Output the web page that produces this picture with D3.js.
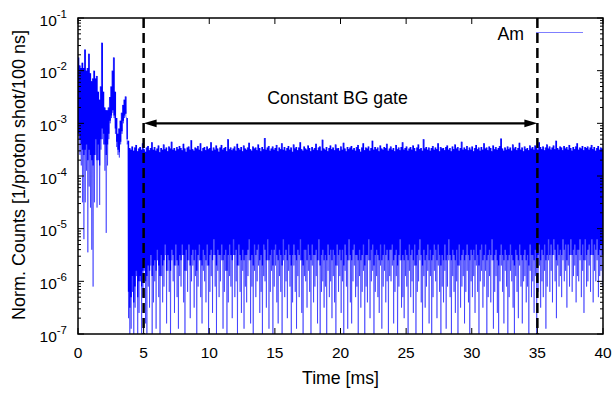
<!DOCTYPE html>
<html lang="en">
<head>
<meta charset="UTF-8">
<title>Am time spectrum</title>
<script src="https://cdn.jsdelivr.net/npm/d3@7"></script>
<style>
    body { margin: 0; background: #fff; }
    svg { display: block; font-family: "Liberation Sans", Arial, Helvetica, sans-serif; }
    .tick-label { font-size: 15.5px; fill: #000; }
    .title { font-size: 17.7px; fill: #000; }
</style>
</head>
<body>
<div id="chart"></div>
<script>
// Spectrum, one bin per 0.1 ms starting at 0 ms.
// All values are log10 of the counts.
// peakLog: highest sample in the bin, dipLog: lowest sample,
// bulkLog: level down to which the trace is solid in that bin.
const binWidth = 0.1;
const peakLog = [
    -1.75,-1.9,-1.95,-1.85,-1.95,-1.6,-2.0,-1.95,-1.68,-2.05,
    -2.2,-2.15,-2.0,-2.15,-2.1,-2.4,-2.55,-2.3,-1.47,-2.4,
    -2.7,-2.75,-2.75,-2.7,-2.5,-2.3,-2.0,-1.75,-2.4,-2.9,
    -3.2,-3.1,-2.95,-2.8,-2.65,-2.55,-2.49,-2.9,
    -3.33,-3.47,-3.5,-3.44,-3.52,-3.46,-3.41,-3.53,-3.48,-3.45,
    -3.5,-3.38,-3.49,-3.54,-3.46,-3.43,-3.51,-3.47,-3.36,-3.5,
    -3.45,-3.52,-3.48,-3.42,-3.55,-3.47,-3.5,-3.4,-3.49,-3.46,
    -3.53,-3.44,-3.48,-3.35,-3.5,-3.47,-3.52,-3.45,-3.49,-3.43,
    -3.47,-3.51,-3.39,-3.48,-3.54,-3.46,-3.44,-3.5,-3.32,-3.49,
    -3.52,-3.46,-3.48,-3.43,-3.5,-3.38,-3.53,-3.47,-3.45,-3.51,
    -3.44,-3.49,-3.47,-3.36,-3.52,-3.46,-3.5,-3.42,-3.48,-3.54,
    -3.46,-3.41,-3.5,-3.47,-3.45,-3.53,-3.3,-3.49,-3.46,-3.51,
    -3.48,-3.44,-3.52,-3.39,-3.47,-3.5,-3.45,-3.53,-3.42,-3.48,
    -3.5,-3.46,-3.37,-3.49,-3.52,-3.44,-3.48,-3.46,-3.51,-3.4,
    -3.47,-3.53,-3.45,-3.49,-3.28,-3.5,-3.46,-3.43,-3.52,-3.48,
    -3.44,-3.5,-3.47,-3.41,-3.53,-3.46,-3.49,-3.38,-3.5,-3.45,
    -3.52,-3.47,-3.43,-3.5,-3.46,-3.54,-3.4,-3.48,-3.45,-3.51,
    -3.46,-3.36,-3.49,-3.52,-3.44,-3.48,-3.5,-3.42,-3.47,-3.53,
    -3.45,-3.5,-3.47,-3.39,-3.51,-3.46,-3.44,-3.52,-3.31,-3.48,
    -3.5,-3.45,-3.53,-3.47,-3.42,-3.49,-3.46,-3.51,-3.4,-3.48,
    -3.47,-3.52,-3.44,-3.5,-3.37,-3.48,-3.53,-3.45,-3.49,-3.46,
    -3.43,-3.5,-3.47,-3.52,-3.45,-3.41,-3.49,-3.54,-3.46,-3.38,
    -3.51,-3.46,-3.48,-3.44,-3.52,-3.47,-3.33,-3.5,-3.45,-3.49,
    -3.46,-3.53,-3.42,-3.48,-3.5,-3.45,-3.47,-3.39,-3.52,-3.48,
    -3.44,-3.5,-3.47,-3.53,-3.41,-3.49,-3.46,-3.51,-3.45,-3.36,
    -3.5,-3.47,-3.44,-3.52,-3.48,-3.45,-3.5,-3.42,-3.47,-3.53,
    -3.46,-3.4,-3.49,-3.47,-3.52,-3.3,-3.48,-3.45,-3.5,-3.46,
    -3.52,-3.47,-3.43,-3.5,-3.46,-3.49,-3.38,-3.53,-3.45,-3.48,
    -3.47,-3.51,-3.45,-3.42,-3.5,-3.47,-3.53,-3.44,-3.49,-3.4,
    -3.48,-3.45,-3.52,-3.47,-3.35,-3.5,-3.46,-3.49,-3.43,-3.51,
    -3.46,-3.5,-3.44,-3.53,-3.47,-3.41,-3.49,-3.46,-3.52,-3.45,
    -3.5,-3.38,-3.48,-3.46,-3.51,-3.44,-3.47,-3.53,-3.42,-3.49,
    -3.45,-3.5,-3.47,-3.43,-3.29,-3.48,-3.52,-3.46,-3.5,-3.44,
    -3.49,-3.46,-3.52,-3.4,-3.48,-3.45,-3.51,-3.47,-3.37,-3.5,
    -3.46,-3.53,-3.44,-3.49,-3.47,-3.51,-3.42,-3.48,-3.45,-3.5,
    -3.42,-3.47,-3.5,-3.36,-3.45,-3.49,-3.44,-3.51,-3.46,-3.4,
    -3.48,-3.44,-3.5,-3.46,-3.42,-3.49,-3.33,-3.47,-3.5,-3.44,
    -3.46,-3.51,-3.43,-3.48,-3.45,-3.5,-3.41,-3.47,-3.52,-3.45,
    -3.49,-3.44,-3.38,-3.5,-3.46,-3.48,-3.43,-3.51,-3.45,-3.47,
    -3.44,-3.5,-3.46,-3.41,-3.49,-3.45,-3.52,-3.47,-3.43,-3.5,
    -3.46,-3.48
];
const bulkLog = [
    -3.2,-3.3,-3.4,-3.5,-3.6,-3.5,-3.4,-3.7,-3.5,-3.6,
    -3.7,-3.8,-3.6,-3.3,-3.7,-3.4,-3.8,-3.3,-3.1,-3.2,
    -3.4,-3.6,-3.4,-3.2,-2.95,-2.85,-2.75,-2.85,-3.1,-3.35,
    -3.5,-3.55,-3.35,-3.15,-2.95,-2.85,-2.82,-3.3,
    -6.2,-6.5,-6.3,-5.9,-6.4,-6.1,-5.8,-6.3,-6.0,-5.9,
    -6.1,-5.8,-5.6,-6.0,-5.9,-5.7,-5.8,-5.5,-5.9,-5.7,
    -5.6,-5.8,-5.4,-5.7,-5.9,-5.5,-5.7,-5.6,-5.3,-5.8,
    -5.5,-5.6,-5.8,-5.4,-5.5,-5.7,-5.3,-5.6,-5.7,-5.5,
    -5.6,-5.3,-5.5,-5.8,-5.4,-5.6,-5.3,-5.7,-5.5,-5.4,
    -5.6,-5.4,-5.8,-5.5,-5.3,-5.6,-5.7,-5.4,-5.5,-5.6,
    -5.3,-5.7,-5.5,-5.4,-5.6,-5.2,-5.5,-5.7,-5.4,-5.5,
    -5.5,-5.3,-5.6,-5.5,-5.4,-5.8,-5.5,-5.3,-5.5,-5.6,
    -5.2,-5.5,-5.4,-5.7,-5.3,-5.5,-5.6,-5.4,-5.6,-5.5,
    -5.5,-5.4,-5.2,-5.6,-5.5,-5.7,-5.3,-5.5,-5.4,-5.3,
    -5.6,-5.5,-5.7,-5.3,-5.4,-5.6,-5.2,-5.6,-5.5,-5.4,
    -5.7,-5.4,-5.3,-5.5,-5.6,-5.4,-5.5,-5.7,-5.2,-5.5,
    -5.4,-5.6,-5.3,-5.5,-5.7,-5.5,-5.3,-5.5,-5.6,-5.4,
    -5.5,-5.2,-5.6,-5.7,-5.4,-5.4,-5.6,-5.3,-5.5,-5.6,
    -5.3,-5.5,-5.5,-5.4,-5.6,-5.2,-5.7,-5.5,-5.4,-5.6,
    -5.5,-5.6,-5.3,-5.5,-5.4,-5.6,-5.4,-5.5,-5.7,-5.3,
    -5.5,-5.4,-5.6,-5.4,-5.7,-5.3,-5.5,-5.6,-5.2,-5.5,
    -5.6,-5.4,-5.3,-5.5,-5.5,-5.6,-5.4,-5.6,-5.5,-5.3,
    -5.7,-5.5,-5.5,-5.2,-5.6,-5.4,-5.3,-5.7,-5.5,-5.4,
    -5.5,-5.6,-5.3,-5.6,-5.5,-5.3,-5.5,-5.4,-5.6,-5.4,
    -5.4,-5.3,-5.6,-5.5,-5.4,-5.7,-5.5,-5.2,-5.6,-5.5,
    -5.6,-5.4,-5.5,-5.6,-5.3,-5.5,-5.4,-5.6,-5.3,-5.7,
    -5.5,-5.4,-5.2,-5.5,-5.7,-5.4,-5.6,-5.5,-5.3,-5.6,
    -5.4,-5.6,-5.5,-5.3,-5.4,-5.6,-5.3,-5.5,-5.7,-5.5,
    -5.6,-5.3,-5.6,-5.5,-5.2,-5.5,-5.6,-5.4,-5.5,-5.6,
    -5.4,-5.7,-5.3,-5.6,-5.5,-5.4,-5.6,-5.5,-5.3,-5.5,
    -5.6,-5.4,-5.5,-5.4,-5.6,-5.3,-5.5,-5.7,-5.4,-5.3,
    -5.6,-5.5,-5.3,-5.6,-5.5,-5.4,-5.5,-5.2,-5.6,-5.5,
    -5.4,-5.6,-5.7,-5.5,-5.3,-5.5,-5.6,-5.4,-5.5,-5.6,
    -5.5,-5.3,-5.5,-5.6,-5.7,-5.4,-5.5,-5.6,-5.3,-5.5,
    -5.6,-5.5,-5.4,-5.6,-5.5,-5.7,-5.3,-5.5,-5.5,-5.6,
    -5.4,-5.6,-5.5,-5.3,-5.6,-5.4,-5.5,-5.3,-5.6,-5.5,
    -5.2,-5.5,-5.3,-5.5,-5.2,-5.4,-5.6,-5.3,-5.5,-5.4,
    -5.5,-5.2,-5.4,-5.3,-5.6,-5.3,-5.5,-5.2,-5.5,-5.4,
    -5.3,-5.5,-5.4,-5.4,-5.2,-5.5,-5.3,-5.6,-5.2,-5.5,
    -5.4,-5.3,-5.5,-5.2,-5.5,-5.3,-5.4,-5.2,-5.5,-5.4,
    -5.3,-5.5
];
const dipLog = [
    -3.0,-3.6,-3.8,-4.5,-5.2,-4.5,-3.9,-5.45,-4.2,-4.6,
    -5.4,-6.1,-4.5,-3.6,-4.6,-3.7,-4.55,-3.5,-3.3,-3.4,
    -3.9,-5.08,-3.8,-3.3,-3.0,-2.9,-2.8,-2.9,-3.2,-3.45,
    -3.6,-3.65,-3.4,-3.2,-3.0,-2.9,-2.87,-3.4,
    -6.7,-7.3,-6.9,-6.2,-7.4,-6.5,-5.9,-7.1,-6.6,-6.0,
    -7.2,-6.3,-5.8,-6.8,-7.3,-6.1,-6.5,-5.7,-7.0,-6.4,
    -6.0,-6.9,-5.6,-6.3,-7.2,-5.9,-6.4,-6.1,-5.5,-6.8,
    -5.8,-6.2,-7.3,-5.6,-6.0,-6.6,-5.7,-6.3,-6.9,-5.9,
    -6.1,-5.5,-6.4,-7.1,-5.8,-6.2,-5.6,-6.7,-6.0,-5.7,
    -6.5,-5.9,-7.3,-6.1,-5.6,-6.3,-6.8,-5.8,-6.0,-6.4,
    -5.7,-7.2,-6.2,-5.9,-6.6,-5.5,-6.1,-7.0,-5.8,-6.3,
    -6.0,-5.6,-6.9,-6.2,-5.8,-7.3,-6.4,-5.9,-6.1,-6.7,
    -5.5,-6.3,-6.0,-7.1,-5.7,-6.2,-6.6,-5.8,-6.9,-6.1,
    -6.4,-5.9,-5.6,-6.8,-6.1,-7.2,-5.8,-6.3,-6.0,-5.7,
    -6.6,-6.2,-7.3,-5.9,-6.0,-6.5,-5.6,-6.9,-6.2,-5.8,
    -7.0,-6.1,-5.7,-6.4,-6.8,-5.9,-6.2,-7.3,-5.6,-6.3,
    -6.0,-6.7,-5.8,-6.1,-7.1,-6.4,-5.7,-6.2,-6.9,-5.9,
    -6.3,-5.6,-6.6,-7.2,-5.9,-6.0,-6.5,-5.8,-6.2,-7.0,
    -5.7,-6.4,-6.1,-5.9,-6.8,-5.6,-7.3,-6.2,-6.0,-6.5,
    -6.1,-7.1,-5.8,-6.3,-6.0,-6.7,-5.9,-6.4,-7.2,-5.7,
    -6.2,-5.9,-6.6,-6.0,-7.3,-5.8,-6.1,-6.9,-5.6,-6.4,
    -6.8,-6.0,-5.7,-6.3,-6.1,-7.0,-5.9,-6.5,-6.2,-5.8,
    -7.2,-6.1,-6.4,-5.6,-6.7,-6.0,-5.8,-7.3,-6.2,-5.9,
    -6.3,-6.6,-5.7,-6.9,-6.1,-5.8,-6.4,-6.0,-7.1,-5.9,
    -6.0,-5.7,-6.8,-6.2,-5.9,-7.3,-6.1,-5.6,-6.5,-6.3,
    -6.7,-5.9,-6.1,-7.0,-5.8,-6.3,-6.0,-6.6,-5.7,-7.2,
    -6.2,-6.0,-5.6,-6.4,-7.3,-5.9,-6.5,-6.1,-5.8,-6.8,
    -5.9,-7.1,-6.3,-5.8,-6.0,-6.7,-5.7,-6.2,-7.2,-6.1,
    -6.4,-5.8,-6.9,-6.1,-5.6,-6.3,-7.0,-5.9,-6.2,-6.6,
    -6.0,-7.3,-5.7,-6.5,-6.1,-5.9,-6.8,-6.2,-5.8,-6.4,
    -7.1,-6.0,-6.3,-5.9,-6.6,-5.7,-6.2,-7.2,-6.0,-5.8,
    -6.5,-6.1,-5.8,-7.0,-6.3,-5.9,-6.4,-5.6,-6.9,-6.2,
    -5.9,-6.6,-7.3,-6.0,-5.7,-6.2,-6.8,-5.8,-6.1,-7.1,
    -6.3,-5.8,-6.0,-6.5,-7.2,-5.9,-6.2,-6.7,-5.7,-6.1,
    -6.8,-6.0,-5.9,-6.4,-6.1,-7.3,-5.8,-6.3,-6.0,-6.6,
    -5.9,-7.0,-6.2,-5.7,-6.5,-6.0,-6.3,-5.8,-6.9,-6.1,
    -5.6,-6.2,-5.8,-6.4,-5.5,-6.0,-6.7,-5.7,-6.1,-5.9,
    -6.3,-5.6,-6.0,-5.8,-6.5,-5.7,-6.1,-5.5,-6.2,-5.9,
    -5.7,-6.4,-5.9,-6.0,-5.6,-6.3,-5.8,-6.6,-5.6,-6.1,
    -6.0,-5.7,-6.2,-5.5,-6.4,-5.8,-6.0,-5.6,-6.3,-5.9,
    -5.8,-6.1
];

const xTicks = [0, 5, 10, 15, 20, 25, 30, 35, 40];
const yDecades = [-7, -6, -5, -4, -3, -2, -1];
const gateStart = 5, gateEnd = 35, gateLevel = 1e-3;
const seriesName = "Am";

const width = 614, height = 394;
const margin = { top: 18, right: 11, bottom: 60, left: 78 };
const plotW = width - margin.left - margin.right;
const plotH = height - margin.top - margin.bottom;

const x = d3.scaleLinear().domain([0, 40]).range([margin.left, margin.left + plotW]);
const y = d3.scaleLog().domain([1e-7, 1e-1]).range([margin.top + plotH, margin.top]);

const svg = d3.select("#chart").append("svg")
    .attr("width", width)
    .attr("height", height);

svg.append("defs").append("clipPath").attr("id", "plot-clip")
    .append("rect")
    .attr("x", margin.left).attr("y", margin.top)
    .attr("width", plotW).attr("height", plotH);

const bins = peakLog.map((p, i) => ({
    t: i * binWidth,
    peak: Math.pow(10, p),
    bulk: Math.pow(10, bulkLog[i]),
    dip: Math.pow(10, dipLog[i])
}));

const dataG = svg.append("g").attr("clip-path", "url(#plot-clip)");

// solid core of the trace, one step per bin (last bin closed at its right edge)
const last = bins[bins.length - 1];
const coreArea = d3.area()
    .curve(d3.curveStepAfter)
    .x(d => x(d.t))
    .y0(d => y(d.bulk))
    .y1(d => y(d.peak));

dataG.append("path")
    .datum(bins.concat([{ ...last, t: last.t + binWidth }]))
    .attr("fill", "#0000ff")
    .attr("d", coreArea);

// spikes: peak at the bin start, dip half a bin later
const points = [];
bins.forEach(b => {
    points.push([b.t, b.peak]);
    points.push([b.t + binWidth / 2, b.dip]);
});

dataG.append("g")
    .attr("stroke", "#0000ff")
    .attr("stroke-opacity", 0.5)
    .attr("stroke-width", 1)
    .selectAll("line")
    .data(d3.pairs(points))
    .join("line")
    .attr("x1", d => x(d[0][0]))
    .attr("y1", d => y(d[0][1]))
    .attr("x2", d => x(d[1][0]))
    .attr("y2", d => y(d[1][1]));

// ticks (inward, mirrored on both sides)
const tickG = svg.append("g").attr("stroke", "#000").attr("stroke-width", 1);
xTicks.forEach(t => {
    tickG.append("line").attr("x1", x(t)).attr("x2", x(t))
        .attr("y1", margin.top + plotH).attr("y2", margin.top + plotH - 6);
    tickG.append("line").attr("x1", x(t)).attr("x2", x(t))
        .attr("y1", margin.top).attr("y2", margin.top + 6);
});
yDecades.forEach(e => {
    const v = Math.pow(10, e);
    [margin.left, margin.left + plotW].forEach((edge, k) => {
        const dir = k === 0 ? 1 : -1;
        tickG.append("line").attr("x1", edge).attr("x2", edge + dir * 6)
            .attr("y1", y(v)).attr("y2", y(v));
        if (e < -1) {
            for (let m = 2; m <= 9; m++) {
                const yy = y(m * v);
                tickG.append("line").attr("x1", edge).attr("x2", edge + dir * 3)
                    .attr("y1", yy).attr("y2", yy);
            }
        }
    });
});

// tick labels
svg.append("g").selectAll("text")
    .data(xTicks)
    .join("text")
    .attr("class", "tick-label")
    .attr("x", d => x(d))
    .attr("y", margin.top + plotH + 24)
    .attr("text-anchor", "middle")
    .text(d => d);

const yLab = svg.append("g").selectAll("text")
    .data(yDecades)
    .join("text")
    .attr("class", "tick-label")
    .attr("x", 67)
    .attr("y", d => y(Math.pow(10, d)) + 7.5)
    .attr("text-anchor", "end");
yLab.append("tspan").text("10");
yLab.append("tspan").attr("dy", -8).style("font-size", "11.5px").text(d => "-" + Math.abs(d));

// axis titles
svg.append("text").attr("class", "title")
    .attr("x", margin.left + plotW / 2).attr("y", 384)
    .attr("text-anchor", "middle")
    .text("Time [ms]");

svg.append("text").attr("class", "title")
    .style("font-size", "18px")
    .attr("transform", `translate(25,${margin.top + plotH / 2 - 1}) rotate(-90)`)
    .attr("text-anchor", "middle")
    .text("Norm. Counts [1/proton shot/100 ns]");

// gate markers
[gateStart, gateEnd].forEach(t => {
    svg.append("line")
        .attr("x1", x(t)).attr("x2", x(t))
        .attr("y1", margin.top).attr("y2", margin.top + plotH)
        .attr("stroke", "#000").attr("stroke-width", 2.5)
        .attr("stroke-dasharray", "10,5");
});

const ay = y(gateLevel);
const headL = 13, headW = 3.8;
svg.append("line")
    .attr("x1", x(gateStart) + headL - 2).attr("x2", x(gateEnd) - headL + 2)
    .attr("y1", ay).attr("y2", ay)
    .attr("stroke", "#000").attr("stroke-width", 2.2);
svg.append("path")
    .attr("d", `M${x(gateStart)},${ay}L${x(gateStart) + headL},${ay - headW}L${x(gateStart) + headL},${ay + headW}Z`)
    .attr("fill", "#000");
svg.append("path")
    .attr("d", `M${x(gateEnd)},${ay}L${x(gateEnd) - headL},${ay - headW}L${x(gateEnd) - headL},${ay + headW}Z`)
    .attr("fill", "#000");

svg.append("text").attr("class", "title")
    .attr("x", (x(gateStart) + x(gateEnd)) / 2 - 3).attr("y", 104)
    .attr("text-anchor", "middle")
    .text("Constant BG gate");

// legend
svg.append("text").attr("class", "title")
    .attr("x", 524).attr("y", 39.5)
    .attr("text-anchor", "end")
    .text(seriesName);
svg.append("line")
    .attr("x1", 536).attr("x2", 583)
    .attr("y1", 32.5).attr("y2", 32.5)
    .attr("stroke", "#0000ff").attr("stroke-opacity", 0.5)
    .attr("stroke-width", 1.2);

// frame
svg.append("rect")
    .attr("x", margin.left).attr("y", margin.top)
    .attr("width", plotW).attr("height", plotH)
    .attr("fill", "none")
    .attr("stroke", "#000").attr("stroke-width", 1.5);
</script>
</body>
</html>
